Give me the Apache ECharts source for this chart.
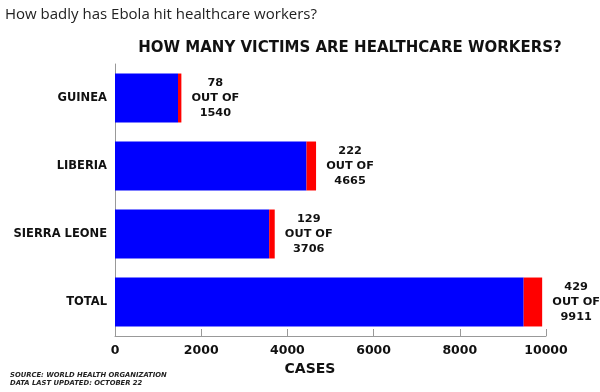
<!DOCTYPE html>
<html>
<head>
<meta charset="utf-8">
<script src="https://cdn.jsdelivr.net/npm/echarts@6/dist/echarts.min.js"></script>
<style>
html,body{margin:0;padding:0;background:#fff;}
#chart{width:600px;height:392px;}
</style>
</head>
<body>
<div id="chart"></div>
<script>
const categories = ['GUINEA', 'LIBERIA', 'SIERRA LEONE', 'TOTAL'];
const healthcareWorkers = [78, 222, 129, 429];
const otherVictims = [1462, 4443, 3577, 9482];
const totalCases = [1540, 4665, 3706, 9911];
const xTicks = [0, 2000, 4000, 6000, 8000, 10000];

const FONT = '"Open Sans", "DejaVu Sans", sans-serif';
const BOLD = '"DejaVu Sans", sans-serif';
const chart = echarts.init(document.getElementById('chart'));
chart.setOption({
  animation: false,
  backgroundColor: '#fff',
  title: [
    { text: 'How badly has Ebola hit healthcare workers?', left: 5, top: 7, padding: 0,
      textStyle: { fontFamily: FONT, fontSize: 15, fontWeight: 'normal', color: '#222' } },
    { text: 'HOW MANY VICTIMS ARE HEALTHCARE WORKERS?', left: 350, top: 41, padding: 0, textAlign: 'center',
      textStyle: { fontFamily: BOLD, fontSize: 15, fontWeight: 'bold', color: '#111' } },
    { text: 'SOURCE: WORLD HEALTH ORGANIZATION\nDATA LAST UPDATED: OCTOBER 22', left: 10, top: 370.5, padding: 0,
      textStyle: { fontFamily: BOLD, fontSize: 6.8, fontWeight: 'bold', fontStyle: 'italic', color: '#222', lineHeight: 8.7 } }
  ],
  grid: { left: 115, right: 54, top: 64, bottom: 56, containLabel: false },
  xAxis: {
    type: 'value', min: xTicks[0], max: xTicks[xTicks.length - 1], interval: 2000,
    name: 'CASES', nameLocation: 'middle', nameGap: 26,
    nameTextStyle: { fontFamily: BOLD, fontSize: 14, fontWeight: 'bold', color: '#111', padding: [0, 41, 0, 0] },
    axisLine: { show: true, lineStyle: { color: '#999', width: 1 } },
    axisTick: { show: true, inside: true, length: 7, lineStyle: { color: '#999' } },
    axisLabel: { fontFamily: BOLD, fontSize: 12.5, fontWeight: 'bold', color: '#111', margin: 8,
      formatter: v => String(v) },
    splitLine: { show: false }
  },
  yAxis: {
    type: 'category', data: categories, inverse: true,
    axisLine: { show: true, lineStyle: { color: '#999', width: 1 } },
    axisTick: { show: false },
    axisLabel: { fontFamily: BOLD, fontSize: 11.5, fontWeight: 'bold', color: '#111', margin: 8 }
  },
  series: [
    { name: 'Other victims', type: 'bar', stack: 'cases', data: otherVictims, barWidth: '72%',
      itemStyle: { color: '#0000FF' } },
    { name: 'Healthcare workers', type: 'bar', stack: 'cases', data: healthcareWorkers, barWidth: '72%',
      itemStyle: { color: '#FF0000' },
      label: {
        show: true, position: 'right', distance: 34, align: 'center',
        fontFamily: BOLD, fontSize: 11.3, fontWeight: 'bold', color: '#111', lineHeight: 15,
        formatter: p => healthcareWorkers[p.dataIndex] + '\nOUT OF\n' + totalCases[p.dataIndex]
      }
    }
  ]
});
</script>
</body>
</html>
